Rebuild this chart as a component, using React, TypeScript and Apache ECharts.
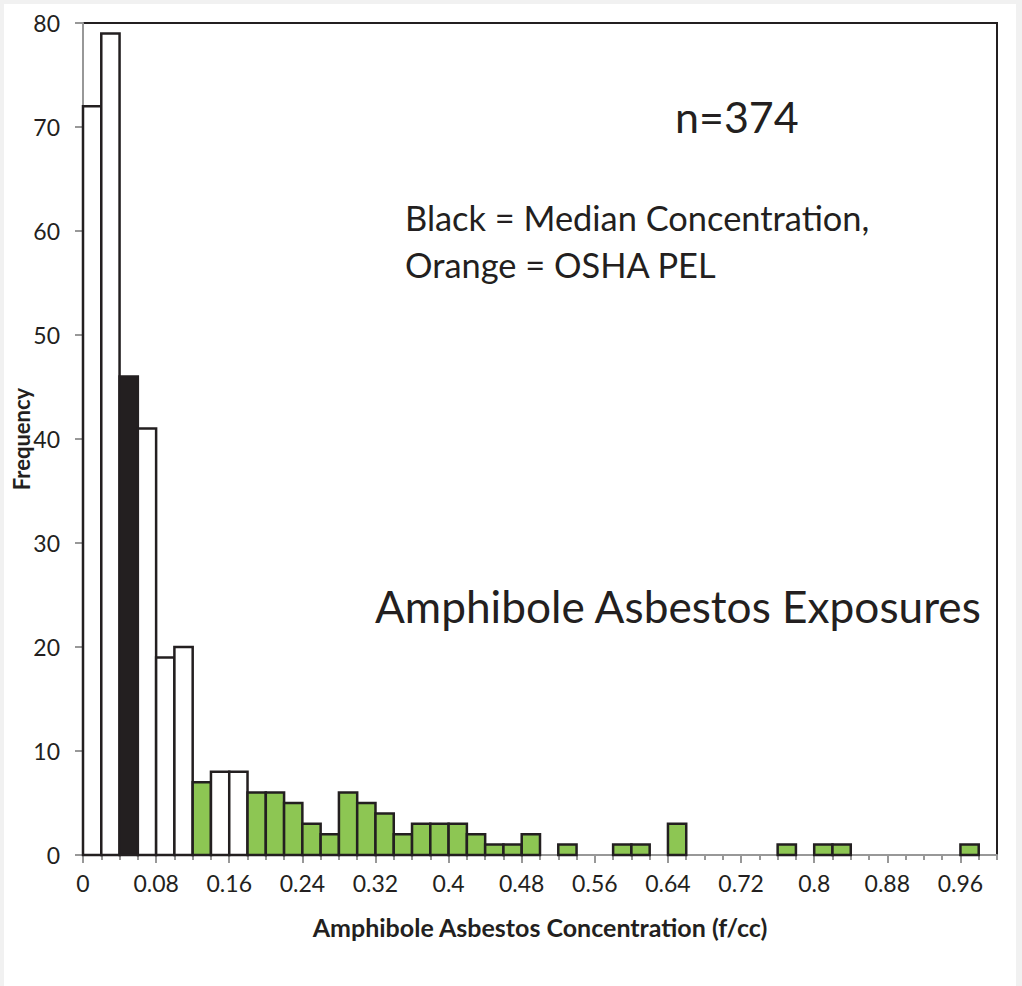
import React, { useEffect, useRef } from "react";
import * as echarts from "echarts";

// Bin lower edges (f/cc), bin width 0.02
const binStarts: number[] = [
  0, 0.02, 0.04, 0.06, 0.08, 0.1, 0.12, 0.14, 0.16, 0.18,
  0.2, 0.22, 0.24, 0.26, 0.28, 0.3, 0.32, 0.34, 0.36, 0.38,
  0.4, 0.42, 0.44, 0.46, 0.48, 0.5, 0.52, 0.54, 0.56, 0.58,
  0.6, 0.62, 0.64, 0.66, 0.68, 0.7, 0.72, 0.74, 0.76, 0.78,
  0.8, 0.82, 0.84, 0.86, 0.88, 0.9, 0.92, 0.94, 0.96, 0.98,
];
const frequencies: number[] = [
  72, 79, 46, 41, 19, 20, 7, 8, 8, 6,
  6, 5, 3, 2, 6, 5, 4, 2, 3, 3,
  3, 2, 1, 1, 2, 0, 1, 0, 0, 1,
  1, 0, 3, 0, 0, 0, 0, 0, 1, 0,
  1, 1, 0, 0, 0, 0, 0, 0, 1, 0,
];
// bar fill class: "w" white, "k" black (median), "g" green
const fillClass: string[] = [
  "w", "w", "k", "w", "w", "w", "g", "w", "w", "g",
  "g", "g", "g", "g", "g", "g", "g", "g", "g", "g",
  "g", "g", "g", "g", "g", "g", "g", "g", "g", "g",
  "g", "g", "g", "g", "g", "g", "g", "g", "g", "g",
  "g", "g", "g", "g", "g", "g", "g", "g", "g", "g",
];
const binWidth = 0.02;
const yTicks = { min: 0, max: 80, interval: 10 };
const xTicks = { min: 0, max: 1, minor: 0.02, major: 0.08 };

const FILL: Record<string, string> = { w: "#ffffff", k: "#231f20", g: "#8dc653" };
const FONT = "Lato, 'Open Sans', sans-serif";

export default function App() {
  const ref = useRef<HTMLDivElement>(null);
  useEffect(() => {
    document.body.style.margin = "0";
    const chart = echarts.init(ref.current!, null, { renderer: "svg" });
    const data = binStarts
      .map((s, i) => [s, s + binWidth, frequencies[i], i])
      .filter((d) => d[2] > 0);
    const txt = (text: string, x: number, y: number, size: number) => ({
      type: "text", x, y,
      style: { text, font: `${size}px ${FONT}`, fill: "#231f20", align: "left", verticalAlign: "middle" },
    });
    chart.setOption({
      animation: false,
      backgroundColor: "#f1f1f1",
      graphic: [
        { type: "rect", z: -10, shape: { x: 4, y: 4, width: 1012, height: 990 }, style: { fill: "#ffffff" }, silent: true },
        txt("n=374", 675, 116, 43),
        txt("Black = Median Concentration,", 405, 217, 34.4),
        txt("Orange = OSHA PEL", 405, 264, 34.4),
        txt("Amphibole Asbestos Exposures", 375, 605, 44.2),
      ],
      grid: {
        left: 83, right: 25, top: 23, bottom: 131,
        outerBoundsMode: "none", containLabel: false,
        show: true, borderColor: "#231f20", borderWidth: 2, backgroundColor: "#ffffff",
      },
      xAxis: [
        {
          type: "value", position: "bottom", min: xTicks.min, max: xTicks.max, interval: xTicks.minor,
          axisLine: { show: true, lineStyle: { color: "#989898", width: 2 } },
          axisTick: { show: true, length: 5, lineStyle: { color: "#989898", width: 2 } },
          axisLabel: { show: false },
          splitLine: { show: false },
        },
        {
          type: "value", position: "bottom", min: xTicks.min, max: xTicks.max, interval: xTicks.major,
          name: "Amphibole Asbestos Concentration (f/cc)",
          nameLocation: "middle", nameGap: 59, nameMoveOverlap: false,
          nameTextStyle: { fontFamily: FONT, fontSize: 25, fontWeight: "bold", color: "#231f20" },
          axisLine: { show: false },
          axisTick: { show: true, length: 8, lineStyle: { color: "#989898", width: 2 } },
          axisLabel: {
            show: true, showMaxLabel: false, margin: 16, fontFamily: FONT, fontSize: 23, color: "#231f20",
            formatter: (v: number) => String(Math.round(v * 100) / 100),
          },
          splitLine: { show: false },
        },
      ],
      yAxis: {
        type: "value", min: yTicks.min, max: yTicks.max, interval: yTicks.interval,
        name: "Frequency", nameLocation: "middle", nameGap: 51, nameRotate: 90, nameMoveOverlap: false,
        nameTextStyle: { fontFamily: FONT, fontSize: 22, fontWeight: "bold", color: "#231f20" },
        axisLine: { show: true, lineStyle: { color: "#989898", width: 2 } },
        axisTick: { show: true, length: 8, lineStyle: { color: "#989898", width: 2 } },
        axisLabel: { margin: 23, fontFamily: FONT, fontSize: 23, color: "#231f20" },
        splitLine: { show: false },
      },
      series: [
        {
          type: "custom",
          xAxisIndex: 0,
          yAxisIndex: 0,
          data,
          renderItem: (params: any, api: any) => {
            const x0 = api.value(0);
            const x1 = api.value(1);
            const y = api.value(2);
            const idx = api.value(3);
            const p0 = api.coord([x0, y]);
            const p1 = api.coord([x1, 0]);
            return {
              type: "rect",
              shape: { x: p0[0], y: p0[1], width: p1[0] - p0[0], height: p1[1] - p0[1] },
              style: { fill: FILL[fillClass[idx]], stroke: "#231f20", lineWidth: 2.5 },
            };
          },
          z: 1,
        },
      ],
    });
    return () => chart.dispose();
  }, []);
  return <div ref={ref} style={{ width: 1022, height: 986 }} />;
}
